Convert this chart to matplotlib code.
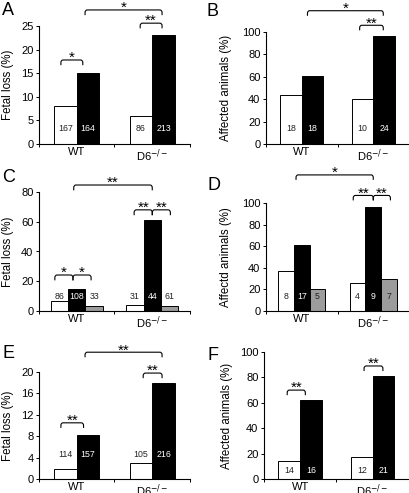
import matplotlib
matplotlib.use('Agg')
import matplotlib.pyplot as plt
from matplotlib.path import Path
from matplotlib.patches import PathPatch

plt.rcParams['font.family'] = ['Liberation Sans', 'DejaVu Sans']

groups = ['WT', 'D6$^{-/-}$']

# A: fetal loss
a_ctrl = [8, 6]
a_treat = [15, 23]
a_n_ctrl = [167, 86]
a_n_treat = [164, 213]

# B: affected animals
b_ctrl = [44, 40]
b_treat = [61, 96]
b_n_ctrl = [18, 10]
b_n_treat = [18, 24]

# C: fetal loss, three conditions
c_ctrl = [6.5, 4]
c_treat = [15, 61]
c_third = [3.3, 3.3]
c_n_ctrl = [86, 31]
c_n_treat = [108, 44]
c_n_third = [33, 61]

# D: affected animals, three conditions
d_ctrl = [37, 25.5]
d_treat = [61, 96]
d_third = [20, 29.5]
d_n_ctrl = [8, 4]
d_n_treat = [17, 9]
d_n_third = [5, 7]

# E: fetal loss
e_ctrl = [1.8, 3]
e_treat = [8.3, 18]
e_n_ctrl = [114, 105]
e_n_treat = [157, 216]

# F: affected animals
f_ctrl = [14.5, 17]
f_treat = [62.5, 81]
f_n_ctrl = [14, 12]
f_n_treat = [16, 21]

W, H = 410, 493
fig = plt.figure(figsize=(W / 100, H / 100), dpi=100)


def make_ax(l, r, b, t):
    return fig.add_axes([l / W, 1 - b / H, (r - l) / W, (b - t) / H])


def style(ax, ymax, step, ylabel, lab_x):
    ax.set_xlim(-0.5, 1.5)
    ax.set_ylim(0, ymax)
    ax.set_yticks(range(0, ymax + 1, step))
    ax.spines['top'].set_visible(False)
    ax.spines['right'].set_visible(False)
    for s in ['left', 'bottom']:
        ax.spines[s].set_linewidth(0.8)
    ax.set_xticks([0, 1])
    ax.set_xticklabels(groups)
    ax.tick_params(axis='x', length=0, labelsize=8, pad=2.5)
    ax.set_xticks([-0.5, 0.5, 1.5], minor=True)
    ax.tick_params(axis='x', which='minor', length=2.5, width=0.7)
    ax.tick_params(axis='y', length=2.5, width=0.7, labelsize=8, pad=1.5)
    ax.set_ylabel(ylabel, fontsize=8.3)
    ax.yaxis.set_label_coords(lab_x, 0.5)


def bars(ax, series, counts, width, offsets, label_y):
    colors = ['white', 'black', '#9c9c9c']
    for k, (vals, ns) in enumerate(zip(series, counts)):
        xs = [i + offsets[k] for i in range(len(vals))]
        ax.bar(xs, vals, width, color=colors[k], edgecolor='black', linewidth=0.7)
        tc = 'white' if colors[k] == 'black' else '#222222'
        for x, n in zip(xs, ns):
            ax.text(x, label_y, str(n), ha='center', va='center', fontsize=6.3, color=tc)


def bracket(ax, x0, x1, y, label, drop):
    rx = 0.03
    ry = drop * 0.5
    verts = [(x0, y - drop), (x0, y - ry), (x0, y), (x0 + rx, y),
             (x1 - rx, y), (x1, y), (x1, y - ry), (x1, y - drop)]
    codes = [Path.MOVETO, Path.LINETO, Path.CURVE3, Path.CURVE3,
             Path.LINETO, Path.CURVE3, Path.CURVE3, Path.LINETO]
    ax.add_patch(PathPatch(Path(verts, codes), fill=False, lw=0.8, clip_on=False))
    ax.annotate(label, ((x0 + x1) / 2, y), xytext=(0, -1.5), textcoords='offset points',
                ha='center', va='baseline', fontsize=11, annotation_clip=False)


# panel A
ax = make_ax(39, 190, 144, 26)
bars(ax, [a_ctrl, a_treat], [a_n_ctrl, a_n_treat], 0.3, [-0.15, 0.15], 3.2)
style(ax, 25, 5, 'Fetal loss (%)', -0.165)
dr = 1.1
bracket(ax, -0.21, 0.08, 17.8, '*', dr)
bracket(ax, 0.84, 1.13, 25.6, '**', dr)
bracket(ax, 0.11, 1.13, 28.4, '*', dr)

# panel B
ax = make_ax(266, 409, 144, 32)
bars(ax, [b_ctrl, b_treat], [b_n_ctrl, b_n_treat], 0.3, [-0.15, 0.15], 13.4)
style(ax, 100, 20, 'Affected animals (%)', -0.235)
dr = 4.5
bracket(ax, 0.81, 1.14, 106, '**', dr)
bracket(ax, 0.08, 1.14, 119, '*', dr)

# panel C
ax = make_ax(39, 190, 311, 192)
bars(ax, [c_ctrl, c_treat, c_third], [c_n_ctrl, c_n_treat, c_n_third], 0.23,
     [-0.23, 0, 0.23], 10)
style(ax, 80, 20, 'Fetal loss (%)', -0.165)
dr = 3.6
bracket(ax, -0.29, -0.05, 24.2, '*', dr)
bracket(ax, -0.05, 0.19, 24.2, '*', dr)
bracket(ax, 0.76, 1.0, 68, '**', dr)
bracket(ax, 1.0, 1.24, 68, '**', dr)
bracket(ax, -0.04, 1.0, 84.7, '**', dr)

# panel D
ax = make_ax(266, 409, 311, 203)
bars(ax, [d_ctrl, d_treat, d_third], [d_n_ctrl, d_n_treat, d_n_third], 0.22,
     [-0.22, 0, 0.22], 13)
style(ax, 100, 20, 'Affectd animals (%)', -0.235)
dr = 4.6
bracket(ax, 0.72, 1.0, 107, '**', dr)
bracket(ax, 1.0, 1.24, 107, '**', dr)
bracket(ax, -0.08, 1.0, 126, '*', dr)

# panel E
ax = make_ax(39, 190, 479, 372)
bars(ax, [e_ctrl, e_treat], [e_n_ctrl, e_n_treat], 0.3, [-0.15, 0.15], 4.5)
style(ax, 20, 4, 'Fetal loss (%)', -0.165)
dr = 0.95
bracket(ax, -0.21, 0.09, 10.5, '**', dr)
bracket(ax, 0.88, 1.13, 19.8, '**', dr)
bracket(ax, 0.11, 1.13, 23.7, '**', dr)

# panel F
ax = make_ax(264, 409, 479, 352)
bars(ax, [f_ctrl, f_treat], [f_n_ctrl, f_n_treat], 0.3, [-0.15, 0.15], 7)
style(ax, 100, 20, 'Affected animals (%)', -0.215)
dr = 4.0
bracket(ax, -0.18, 0.07, 70, '**', dr)
bracket(ax, 0.88, 1.14, 89, '**', dr)

# panel letters
for letter, px, py in [('A', 2, 15), ('B', 207, 16), ('C', 2, 182),
                       ('D', 208, 190), ('E', 2, 358), ('F', 208, 360)]:
    fig.text(px / W, 1 - py / H, letter, fontsize=13, ha='left', va='baseline')

fig.savefig('out.png', dpi=100)
